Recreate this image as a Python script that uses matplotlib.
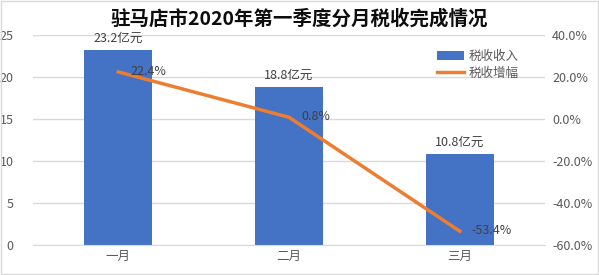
import matplotlib.pyplot as plt
from matplotlib.patches import Rectangle

plt.rcParams['font.family'] = ['Noto Sans CJK SC', 'DejaVu Sans']

months = ["一月", "二月", "三月"]
revenue = [23.2, 18.8, 10.8]          # 亿元
growth = [22.4, 0.8, -53.4]           # %
bar_labels = ["23.2亿元", "18.8亿元", "10.8亿元"]
growth_labels = ["22.4%", "0.8%", "-53.4%"]

blue = "#4472C4"
orange = "#ED7D31"
gray = "#595959"

fig = plt.figure(figsize=(5.99, 2.75), dpi=100)
fig.patches.append(Rectangle((0.002, 0.004), 0.996, 0.992, transform=fig.transFigure,
                             fill=False, edgecolor="#D9D9D9", linewidth=1))
ax = fig.add_axes([0.055, 0.109, 0.855, 0.764])
ax2 = ax.twinx()

x = range(len(months))
bars = ax.bar(x, revenue, width=0.4, color=blue, label="税收收入", zorder=2)
ax.set_ylim(0, 25)
ax.set_yticks([0, 5, 10, 15, 20, 25])
ax.set_xlim(-0.5, 2.5)
ax.set_xticks(list(x))
ax.set_xticklabels(months)
ax.grid(axis="y", color="#D9D9D9", linewidth=1, zorder=0)
ax.set_axisbelow(True)
for s in ["top", "right", "left"]:
    ax.spines[s].set_visible(False)
ax.spines["bottom"].set_color("#D9D9D9")
ax.tick_params(axis="both", length=0, colors=gray, labelsize=9)
ax.tick_params(axis="y", pad=14)

for i, v in enumerate(revenue):
    ax.text(i, v + 0.6, bar_labels[i], ha="center", va="bottom", fontsize=9, color="#404040")

line, = ax2.plot(list(x), growth, color=orange, linewidth=2.5, label="税收增幅", zorder=3)
ax2.set_ylim(-60, 40)
ax2.set_yticks([-60, -40, -20, 0, 20, 40])
ax2.set_yticklabels([f"{t:.1f}%" for t in [-60, -40, -20, 0, 20, 40]])
ax2.tick_params(axis="y", length=0, colors=gray, labelsize=9, pad=5)
for s in ax2.spines.values():
    s.set_visible(False)
for i, v in enumerate(growth):
    ax2.text(i + 0.07, v + 0.3, growth_labels[i], ha="left", va="center", fontsize=9, color="#404040")

fig.legend(handles=[bars, line], labels=["税收收入", "税收增幅"], loc="upper left",
           bbox_to_anchor=(0.71, 0.86), frameon=False, fontsize=9, labelcolor=gray,
           handlelength=2.2, handletextpad=0.4, labelspacing=0.3)

fig.text(0.5, 0.93, "驻马店市2020年第一季度分月税收完成情况", ha="center", va="center",
         fontsize=14, fontweight="bold", color="#0D0D0D")

fig.savefig("out.png", dpi=100)
